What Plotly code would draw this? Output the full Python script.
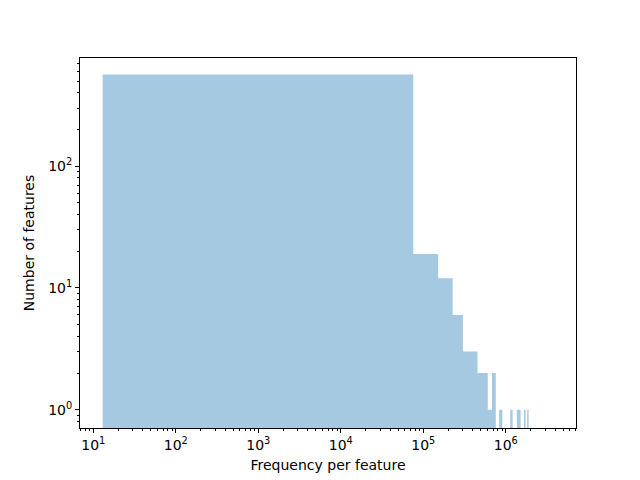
import plotly.graph_objects as go

# Histogram bin edges (linear bins) and counts
bin_edges = [13, 75600, 151200, 226800, 302400, 378000, 453600, 529200, 604800,
             680400, 756000, 831600, 907200, 982800, 1058400, 1134000, 1209600,
             1285200, 1360800, 1436400, 1512000, 1587600, 1663200, 1738800,
             1814400, 1890000]
counts = [565, 19, 12, 6, 3, 3, 2, 2, 1, 2, 0, 1, 0, 0, 0, 1, 0, 0, 1, 1, 0, 0, 1, 0, 1]

x_title = "Frequency per feature"
y_title = "Number of features"

BOTTOM = 0.01  # below visible axis range (bars start from 0 in log space)

# Build step outline polygon for the histogram
xs, ys = [bin_edges[0]], [BOTTOM]
for i, c in enumerate(counts):
    h = c if c > 0 else BOTTOM
    xs += [bin_edges[i], bin_edges[i + 1]]
    ys += [h, h]
xs.append(bin_edges[-1])
ys.append(BOTTOM)

fig = go.Figure()
fig.add_trace(go.Scatter(
    x=xs, y=ys, mode="lines", fill="toself",
    fillcolor="rgba(31,119,180,0.4)", line=dict(width=0),
    hoverinfo="skip", showlegend=False,
))

def minors(lo, hi):
    vals = []
    for k in range(lo, hi + 1):
        for m in range(2, 10):
            vals.append(m * 10 ** k)
    return vals

font = dict(family="DejaVu Sans", size=14, color="black")

fig.update_xaxes(
    type="log", range=[0.839, 6.851],
    tickmode="array",
    tickvals=[10, 100, 1000, 1e4, 1e5, 1e6],
    ticktext=["10<sup>1</sup>", "10<sup>2</sup>", "10<sup>3</sup>",
              "10<sup>4</sup>", "10<sup>5</sup>", "10<sup>6</sup>"],
    ticks="outside", ticklen=4, tickwidth=1, tickcolor="black",
    minor=dict(ticks="outside", ticklen=2, tickwidth=0.8, tickcolor="black",
               tickmode="array", tickvals=minors(0, 6)),
    showline=True, linecolor="black", linewidth=1, mirror=True,
    showgrid=False, zeroline=False,
    title=dict(text=x_title, font=font, standoff=8),
    tickfont=font,
)
fig.update_yaxes(
    type="log", range=[-0.150, 2.888],
    tickmode="array",
    tickvals=[1, 10, 100],
    ticktext=["10<sup>0</sup>", "10<sup>1</sup>", "10<sup>2</sup>"],
    ticks="outside", ticklen=4, tickwidth=1, tickcolor="black",
    minor=dict(ticks="outside", ticklen=2, tickwidth=0.8, tickcolor="black",
               tickmode="array", tickvals=minors(-1, 2)),
    showline=True, linecolor="black", linewidth=1, mirror=True,
    showgrid=False, zeroline=False,
    title=dict(text=y_title, font=font, standoff=10),
    tickfont=font,
)

fig.update_layout(
    width=640, height=480,
    margin=dict(l=72, r=72, t=50, b=60, pad=0),
    plot_bgcolor="white", paper_bgcolor="white",
    font=font,
)

fig.write_html("out.html")
